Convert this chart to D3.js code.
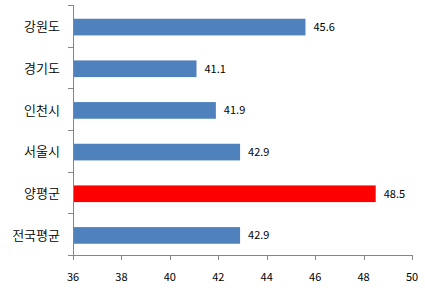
<!DOCTYPE html>
<html><head><meta charset="utf-8">
<script src="https://cdn.jsdelivr.net/npm/d3@7"></script>
<style>body{margin:0;background:#fff}svg{display:block}</style>
</head><body><svg id="c" width="425" height="288"></svg>
<script>
const categories = ["강원도","경기도","인천시","서울시","양평군","전국평균"];
const values = [45.6, 41.1, 41.9, 42.9, 48.5, 42.9];
const highlight = ["양평군"];
const xTicks = [36,38,40,42,44,46,48,50];

const svg = d3.select("#c");
const mLeft = 73, mRight = 412, mTop = 5, mBottom = 255;
const x = d3.scaleLinear().domain([36,50]).range([mLeft,mRight]);
const y = d3.scaleBand().domain(categories).range([mTop,mBottom]).paddingInner(0.6).paddingOuter(0.3).align(0.55);
const yb = d3.scaleBand().domain(categories).range([mTop,mBottom]);
const font = "'Noto Sans CJK KR','Noto Sans',sans-serif";
const axisColor = "#868686";

svg.selectAll("rect.bar").data(categories).enter().append("rect")
  .attr("x", x(36)).attr("y", d => y(d))
  .attr("width", (d,i) => x(values[i]) - x(36))
  .attr("height", y.bandwidth())
  .attr("fill", d => highlight.includes(d) ? "#FF0000" : "#4F81BD");

svg.selectAll("text.val").data(categories).enter().append("text")
  .attr("x", (d,i) => x(values[i]) + 8)
  .attr("y", d => y(d) + y.bandwidth()/2)
  .attr("dy","0.35em")
  .attr("font-family", font).attr("font-size", 11).attr("fill","#000")
  .text((d,i) => values[i].toFixed(1));

// y axis
const ga = svg.append("g");
ga.append("line").attr("x1",mLeft+0.5).attr("x2",mLeft+0.5).attr("y1",mTop).attr("y2",mBottom).attr("stroke",axisColor);
const yEdges = categories.map(d => yb(d)).concat([mBottom]);
ga.selectAll("line.yt").data(yEdges).enter().append("line")
  .attr("x1",mLeft-5).attr("x2",mLeft).attr("y1",d=>Math.round(d)+0.5).attr("y2",d=>Math.round(d)+0.5).attr("stroke",axisColor);
ga.selectAll("text.yl").data(categories).enter().append("text")
  .attr("x", 60).attr("y", d => yb(d) + yb.bandwidth()/2 + 1)
  .attr("dy","0.35em").attr("text-anchor","end")
  .attr("font-family", font).attr("font-size", 13).attr("font-weight", 350).attr("fill","#000")
  .text(d => d);

// x axis
ga.append("line").attr("x1",mLeft).attr("x2",mRight+1).attr("y1",mBottom+0.5).attr("y2",mBottom+0.5).attr("stroke",axisColor);
ga.selectAll("line.xt").data(xTicks).enter().append("line")
  .attr("x1",d=>Math.round(x(d))+0.5).attr("x2",d=>Math.round(x(d))+0.5).attr("y1",mBottom).attr("y2",mBottom+5).attr("stroke",axisColor);
ga.selectAll("text.xl").data(xTicks).enter().append("text")
  .attr("x", d => x(d)).attr("y", 281).attr("text-anchor","middle")
  .attr("font-family", font).attr("font-size", 11).attr("fill","#000")
  .text(d => d);
</script></body></html>
